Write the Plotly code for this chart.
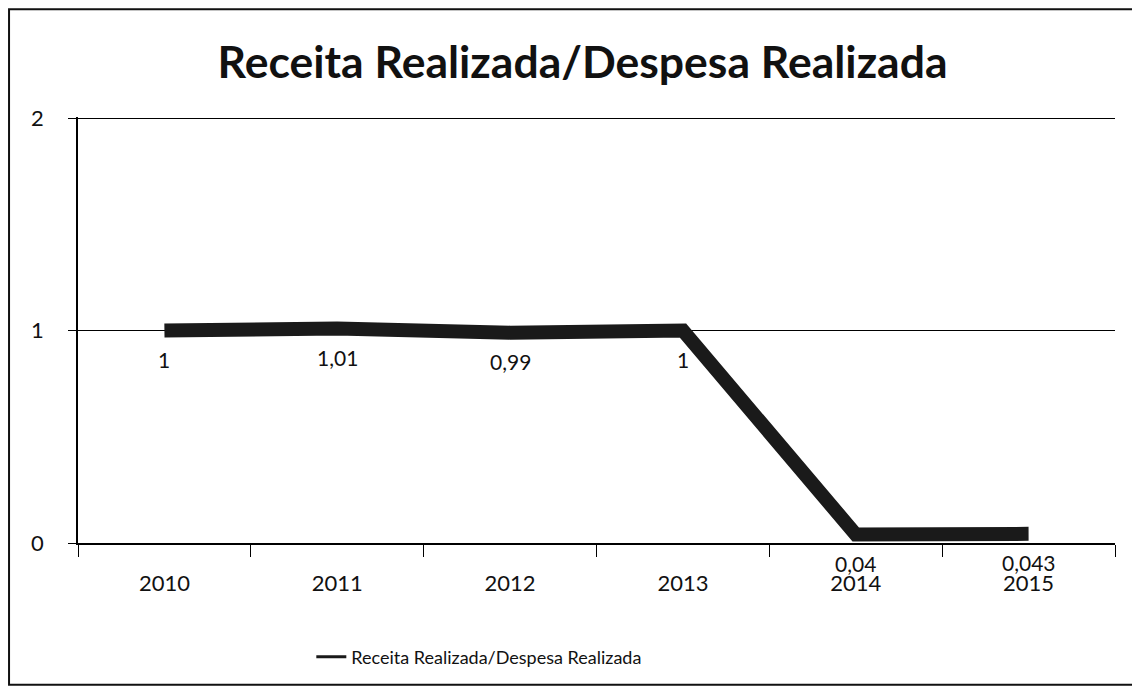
import plotly.graph_objects as go

years = ["2010", "2011", "2012", "2013", "2014", "2015"]
ratio = [1, 1.01, 0.99, 1, 0.04, 0.043]
labels = [str(v).replace(".", ",") for v in ratio]
series_name = "Receita Realizada/Despesa Realizada"
title_text = "Receita Realizada/Despesa Realizada"

FONT = "Lato"
INK = "#111111"

fig = go.Figure()
fig.add_trace(go.Scatter(
    x=years, y=ratio, mode="lines", name=series_name,
    line=dict(color="#1a1a1a", width=14), showlegend=False,
))
# legend entry with a thin sample line
fig.add_trace(go.Scatter(
    x=[None], y=[None], mode="lines", name=series_name,
    line=dict(color="#1a1a1a", width=3), showlegend=True,
))

# data labels below each point (category axis -> use serial index)
for i, (y, t) in enumerate(zip(ratio, labels)):
    fig.add_annotation(x=i, y=y, xref="x", yref="y", text=t, showarrow=False,
                       yshift=-29, font=dict(family=FONT, size=21, color=INK))

# outer chart border
fig.add_shape(type="rect", xref="paper", yref="paper",
              x0=-0.0665, x1=1.019, y0=-0.333, y1=1.253,
              line=dict(color="#111111", width=2), fillcolor="rgba(0,0,0,0)")

fig.update_layout(
    width=1140, height=693,
    paper_bgcolor="white", plot_bgcolor="white",
    margin=dict(l=70, r=33, t=109, b=158, autoexpand=False),
    title=dict(text="<b>" + title_text + "</b>", x=0.504, xanchor="center",
               y=0.921, yanchor="middle",
               font=dict(family=FONT, size=44.5, color=INK)),
    font=dict(family=FONT, color=INK),
    showlegend=True,
    legend=dict(orientation="h", x=0.387, xanchor="center", y=-0.268, yanchor="middle",
                font=dict(family=FONT, size=18, color=INK), bgcolor="rgba(0,0,0,0)"),
    xaxis=dict(type="category", showgrid=False, showline=True, linecolor="black", linewidth=1.5,
               ticks="outside", tickson="boundaries", ticklen=12, tickcolor="black",
               tickfont=dict(family=FONT, size=22, color=INK), ticklabelstandoff=20,
               range=[-0.5, 5.5], automargin=False),
    yaxis=dict(range=[0, 2.005], dtick=1, showgrid=True, gridcolor="black", gridwidth=1,
               showline=True, linecolor="black", linewidth=1.5, zeroline=False,
               ticks="outside", ticklen=8, tickcolor="black",
               tickfont=dict(family=FONT, size=22, color=INK), ticklabelstandoff=20,
               automargin=False),
)

fig.write_html("out.html")
